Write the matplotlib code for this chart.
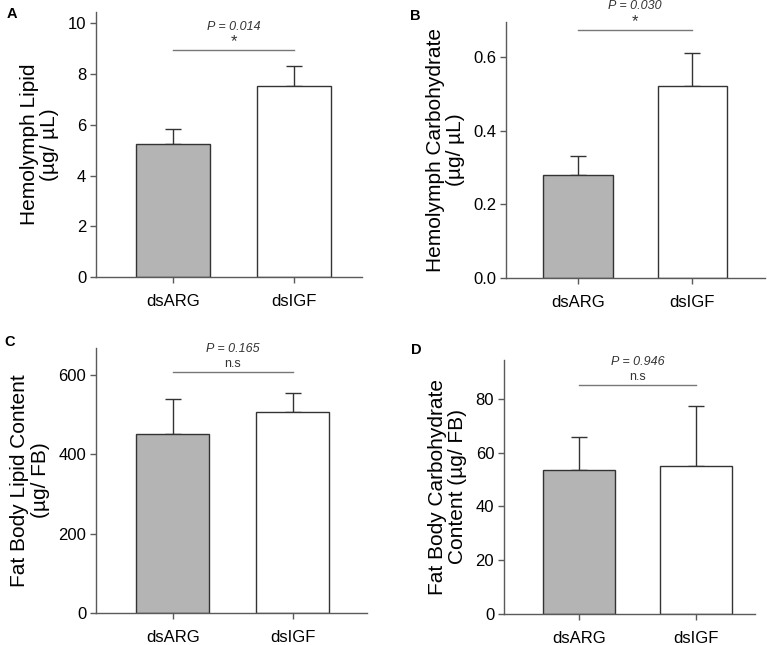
import matplotlib.pyplot as plt

plt.rcParams['font.family'] = ['Liberation Sans', 'DejaVu Sans']

groups = ['dsARG', 'dsIGF']

lipid_hemo = [5.25, 7.52]
lipid_hemo_err = [0.60, 0.78]
carb_hemo = [0.28, 0.522]
carb_hemo_err = [0.05, 0.088]
lipid_fb = [451, 506]
lipid_fb_err = [89, 48]
carb_fb = [53.5, 55.2]
carb_fb_err = [12.2, 22.0]

p_values = ['P = 0.014', 'P = 0.030', 'P = 0.165', 'P = 0.946']
sig_marks = ['*', '*', 'n.s', 'n.s']
sig_sizes = [12, 12, 9, 9]
sig_heights = [8.94, 0.674, 607, 85]

ylabels = ['Hemolymph Lipid\n(\u00b5g/ \u00b5L)',
           'Hemolymph Carbohydrate\n(\u00b5g/ \u00b5L)',
           'Fat Body Lipid Content\n(\u00b5g/ FB)',
           'Fat Body Carbohydrate\nContent (\u00b5g/ FB)']
panel_letters = ['A', 'B', 'C', 'D']
yticks = [[0, 2, 4, 6, 8, 10],
          [0.0, 0.2, 0.4, 0.6],
          [0, 200, 400, 600],
          [0, 20, 40, 60, 80]]
ytick_fmt = ['{:g}', '{:.1f}', '{:g}', '{:g}']
ylims = [10.45, 0.695, 668, 94.5]

values = [lipid_hemo, carb_hemo, lipid_fb, carb_fb]
errors = [lipid_hemo_err, carb_hemo_err, lipid_fb_err, carb_fb_err]

# axes rectangles (left, bottom, width, height) in figure fraction
rects = [(0.125, 0.5705, 0.347, 0.411),
         (0.660, 0.569, 0.338, 0.397),
         (0.125, 0.0496, 0.3535, 0.411),
         (0.657, 0.048, 0.327, 0.394)]
xlims = [(-0.64, 1.56), (-0.63, 1.64), (-0.64, 1.62), (-0.64, 1.5)]
letter_pos = [(0.016, 0.978), (0.542, 0.975), (0.012, 0.47), (0.543, 0.458)]

fig = plt.figure(figsize=(7.67, 6.45), dpi=100)
x = [0, 1]
edge = '#333333'
spine_col = '#5a5a5a'

for i in range(4):
    ax = fig.add_axes(rects[i])
    ax.bar(x, values[i], width=0.61, color=['#b4b4b4', 'white'],
           edgecolor=edge, linewidth=1.0, zorder=2)
    ax.errorbar(x, values[i], yerr=[[0, 0], errors[i]], fmt='none',
                ecolor=edge, elinewidth=1.0, capsize=6, capthick=1.0, zorder=1)
    ax.set_xlim(*xlims[i])
    ax.set_ylim(0, ylims[i])
    ax.set_xticks(x)
    ax.set_xticklabels(groups, fontsize=12)
    ax.set_yticks(yticks[i])
    ax.set_yticklabels([ytick_fmt[i].format(t) for t in yticks[i]], fontsize=12)
    for s in ['top', 'right']:
        ax.spines[s].set_visible(False)
    for s in ['left', 'bottom']:
        ax.spines[s].set_color(spine_col)
        ax.spines[s].set_linewidth(1.0)
    ax.tick_params(axis='both', direction='out', length=4, color=spine_col, width=1.0)
    ax.tick_params(axis='x', pad=8.5)
    ax.tick_params(axis='y', pad=3)
    ax.set_ylabel(ylabels[i], fontsize=15, labelpad=6, linespacing=1.1)

    h = sig_heights[i]
    ax.plot(x, [h, h], color='#777777', linewidth=1.0, clip_on=False)
    ax.annotate(sig_marks[i], xy=(0.5, h), xytext=(0, 6), textcoords='offset points',
                ha='center', va='center', fontsize=sig_sizes[i],
                annotation_clip=False, color='#333333')
    ax.annotate(p_values[i], xy=(0.5, h), xytext=(0, 17), textcoords='offset points',
                ha='center', va='center', fontsize=9, style='italic',
                annotation_clip=False, color='#333333')

    fig.text(letter_pos[i][0], letter_pos[i][1], panel_letters[i],
             fontsize=10.5, fontweight='bold', ha='center', va='center')

fig.savefig('out.png', dpi=100)
